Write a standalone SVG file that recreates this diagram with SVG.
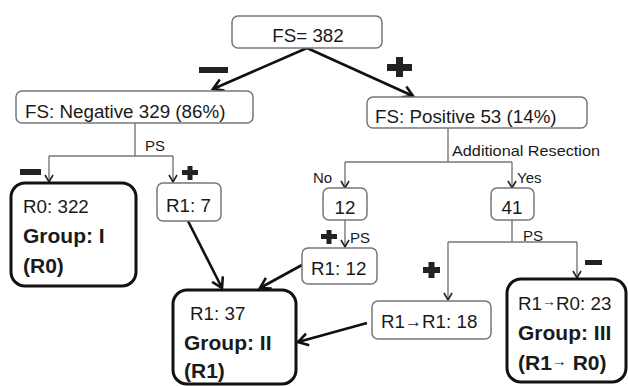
<svg xmlns="http://www.w3.org/2000/svg" width="628" height="386" viewBox="0 0 628 386">
<style>
text{font-family:"Liberation Sans",Arial,sans-serif;fill:#1a1a1a}
.t{font-size:18.8px}
.b{font-size:21px;font-weight:bold}
.s{font-size:15px}
.box{fill:#fff;stroke:#777;stroke-width:1.5}
.tbox{fill:#fff;stroke:#111;stroke-width:3}
.thick{stroke:#111;stroke-width:2.6;fill:none;marker-end:url(#ah)}
.thin{stroke:#777;stroke-width:1.4;fill:none}
.thinA{stroke:#777;stroke-width:1.4;fill:none;marker-end:url(#as)}
.sym{fill:#222}
</style>
<defs>
<marker id="ah" markerUnits="userSpaceOnUse" markerWidth="16" markerHeight="16" refX="13" refY="8" orient="auto">
<path d="M3,2 L13,8 L3,14" fill="none" stroke="#111" stroke-width="2.6"/>
</marker>
<marker id="as" markerUnits="userSpaceOnUse" markerWidth="12" markerHeight="12" refX="10" refY="6" orient="auto">
<path d="M3,2 L10,6 L3,10" fill="none" stroke="#222" stroke-width="1.6"/>
</marker>
</defs>
<rect width="628" height="386" fill="#fff"/>

<g id="connectors">
<path class="thick" d="M307,48 L213,89"/>
<path class="thick" d="M307,48 L413,96"/>
<path class="thick" d="M188,221 L222,288"/>
<path class="thick" d="M302,265 L260,288"/>
<path class="thick" d="M367,323 L298,342"/>
<path class="thin" d="M135,123 V156 M49,156 H173"/>
<path class="thinA" d="M49,156 V182"/>
<path class="thinA" d="M173,156 V182"/>
<path class="thin" d="M448,128 V162 M345,162 H512"/>
<path class="thinA" d="M345,162 V188"/>
<path class="thinA" d="M512,162 V188"/>
<path class="thinA" d="M345,220 V247"/>
<path class="thin" d="M512,220 V242 M448,242 H577"/>
<path class="thinA" d="M448,242 V300"/>
<path class="thinA" d="M577,242 V278"/>
<text class="s" x="145" y="151">PS</text>
<text class="s" x="452" y="156" font-size="16" textLength="148" lengthAdjust="spacingAndGlyphs">Additional Resection</text>
<text class="s" x="313" y="183">No</text>
<text class="s" x="517" y="183">Yes</text>
<text class="s" x="350" y="243">PS</text>
<text class="s" x="523" y="241">PS</text>
</g>

<g id="signs">
<rect class="sym" x="199" y="67" width="29" height="6"/>
<rect class="sym" x="387" y="64" width="25" height="7"/>
<rect class="sym" x="396" y="57" width="7" height="20"/>
<rect class="sym" x="20" y="169" width="21" height="6"/>
<rect class="sym" x="182" y="170" width="16" height="5"/>
<rect class="sym" x="187.5" y="166" width="5" height="14"/>
<rect class="sym" x="321" y="234" width="16" height="5"/>
<rect class="sym" x="326.5" y="230" width="5" height="14"/>
<rect class="sym" x="423" y="267" width="17" height="6"/>
<rect class="sym" x="428.5" y="262" width="6" height="16"/>
<rect class="sym" x="585" y="260" width="17" height="5"/>
</g>

<g id="n-root">
<rect class="box" x="232" y="16" width="150" height="32" rx="6"/>
<text class="t" x="308" y="42" text-anchor="middle">FS= 382</text>
</g>
<g id="n-neg">
<rect class="box" x="16" y="91" width="237" height="32" rx="6"/>
<text class="t" x="25" y="118">FS: Negative 329 (86%)</text>
</g>
<g id="n-pos">
<rect class="box" x="367" y="97" width="220" height="31" rx="6"/>
<text class="t" x="375" y="123">FS: Positive 53 (14%)</text>
</g>
<g id="n-g1">
<rect class="tbox" x="11" y="183" width="125" height="103" rx="14"/>
<text class="t" x="23" y="213">R0: 322</text>
<text class="b" x="23" y="243">Group: I</text>
<text class="b" x="23" y="273">(R0)</text>
</g>
<g id="n-r17">
<rect class="box" x="157" y="183" width="64" height="38" rx="6"/>
<text class="t" x="166" y="212">R1: 7</text>
</g>
<g id="n-12">
<rect class="box" x="323" y="188" width="44" height="32" rx="6"/>
<text class="t" x="345" y="214" text-anchor="middle">12</text>
</g>
<g id="n-41">
<rect class="box" x="491" y="188" width="43" height="32" rx="6"/>
<text class="t" x="512" y="214" text-anchor="middle">41</text>
</g>
<g id="n-r112">
<rect class="box" x="302" y="248" width="75" height="36" rx="6"/>
<text class="t" x="311" y="275">R1: 12</text>
</g>
<g id="n-r1r1">
<rect class="box" x="372" y="301" width="119" height="38" rx="6"/>
<text class="t" x="381" y="328">R1<tspan font-size="17" dy="-1">→</tspan><tspan dy="1">R1: 18</tspan></text>
</g>
<g id="n-g2">
<rect class="tbox" x="173" y="290" width="123" height="94" rx="14"/>
<text class="t" x="190" y="320">R1: 37</text>
<text class="b" x="184" y="350">Group: II</text>
<text class="b" x="184" y="378">(R1)</text>
</g>
<g id="n-g3">
<rect class="tbox" x="507" y="279" width="119" height="103" rx="14"/>
<text class="t" x="518" y="310">R1<tspan font-size="14" dy="-4">→</tspan><tspan dy="4">R0: 23</tspan></text>
<text class="b" x="518" y="340">Group: III</text>
<text class="b" x="518" y="370">(R1<tspan font-size="15" dy="-4">→</tspan><tspan dy="4"> R0)</tspan></text>
</g>
</svg>
